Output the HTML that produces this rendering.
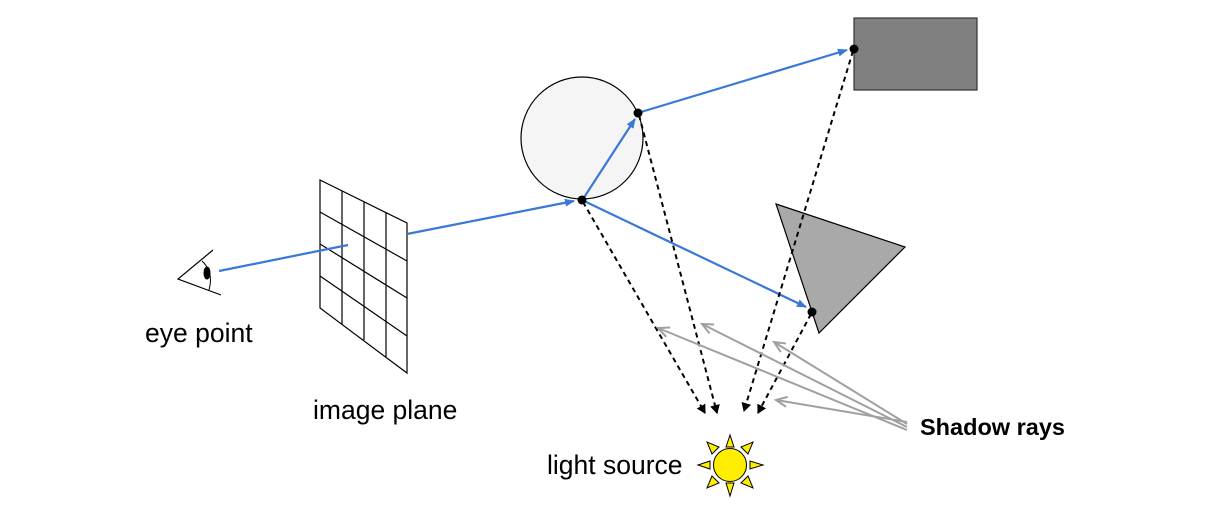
<!DOCTYPE html>
<html><head><meta charset="utf-8"><style>html,body{margin:0;padding:0;background:#fff;width:1232px;height:515px;overflow:hidden}</style></head>
<body>
<svg width="1232" height="515" viewBox="0 0 1232 515" xmlns="http://www.w3.org/2000/svg">
<defs>
<marker id="ab" markerWidth="10" markerHeight="8" refX="9" refY="4" orient="auto" markerUnits="userSpaceOnUse"><path d="M0,0 L10,4 L0,8 Z" fill="#3a78d8"/></marker>
<marker id="ak" markerWidth="10" markerHeight="10" refX="8" refY="5" orient="auto" markerUnits="userSpaceOnUse"><path d="M0,0 L9,5 L0,10 Z" fill="#000"/></marker>
<marker id="ag" markerWidth="14" markerHeight="12" refX="12" refY="6" orient="auto" markerUnits="userSpaceOnUse"><path d="M1,1 L12,6 L1,11" fill="none" stroke="#a0a0a0" stroke-width="2"/></marker>
</defs>
<!-- eye -->
<path d="M213,250 L178,279 L221,295" fill="none" stroke="#000" stroke-width="1.2"/>
<path d="M202,261 Q214,272 209,290" fill="none" stroke="#000" stroke-width="1"/>
<ellipse cx="207" cy="273" rx="3.5" ry="6.5" fill="#000"/>
<!-- grid -->
<g stroke="#000" stroke-width="1.2" fill="none">
<path d="M320,180 L407,223 L407,373 L320,308 Z"/>
<line x1="342" y1="191" x2="342" y2="324"/>
<line x1="364" y1="202" x2="364" y2="340"/>
<line x1="386" y1="213" x2="386" y2="357"/>
<line x1="320" y1="212" x2="407" y2="261"/>
<line x1="320" y1="244" x2="407" y2="298"/>
<line x1="320" y1="276" x2="407" y2="336"/>
</g>
<!-- shapes -->
<circle cx="582" cy="138" r="61" fill="#f5f5f5" stroke="#000" stroke-width="1.2"/>
<rect x="854" y="18" width="123" height="72" fill="#808080" stroke="#333" stroke-width="1.2"/>
<path d="M776,204 L905,247 L819,333 Z" fill="#a9a9a9" stroke="#000" stroke-width="1.2"/>
<!-- blue rays -->
<g stroke="#3a78d8" stroke-width="2.2" fill="none">
<line x1="219" y1="271" x2="348" y2="245"/>
<line x1="407" y1="234" x2="574" y2="201" marker-end="url(#ab)"/>
<line x1="583" y1="199" x2="635" y2="119" marker-end="url(#ab)"/>
<line x1="641" y1="112" x2="847" y2="50" marker-end="url(#ab)"/>
<line x1="584" y1="201" x2="806" y2="307" marker-end="url(#ab)"/>
</g>
<!-- dashed -->
<g stroke="#000" stroke-width="2" stroke-dasharray="5,4" fill="none">
<line x1="583" y1="202" x2="705" y2="413" marker-end="url(#ak)"/>
<line x1="639" y1="115" x2="717" y2="413" marker-end="url(#ak)"/>
<line x1="853" y1="51" x2="744" y2="411" marker-end="url(#ak)"/>
<line x1="811" y1="314" x2="758" y2="413" marker-end="url(#ak)"/>
</g>
<!-- shadow rays -->
<g stroke="#a0a0a0" stroke-width="2" fill="none">
<line x2="658" y2="328" x1="907" y1="430" marker-end="url(#ag)"/>
<line x2="702" y2="324" x1="907" y1="427" marker-end="url(#ag)"/>
<line x2="774" y2="342" x1="907" y1="424" marker-end="url(#ag)"/>
<line x2="776" y2="400" x1="907" y1="422" marker-end="url(#ag)"/>
</g>
<g fill="#000">
<circle cx="582" cy="200" r="4.5"/><circle cx="638" cy="113" r="4.5"/>
<circle cx="854" cy="49" r="4.5"/><circle cx="812" cy="312" r="4.5"/>
</g>
<!-- sun -->
<g fill="#ffee00" stroke="#000" stroke-width="1">
<polygon points="730,435 726,447 734,447"/>
<polygon points="730,496 726,483 734,483"/>
<polygon points="698,465 710,461 710,469"/>
<polygon points="763,465 750,461 750,469"/>
<polygon points="707,442 712,454 719,447"/>
<polygon points="753,442 748,454 741,447"/>
<polygon points="707,488 712,476 719,483"/>
<polygon points="753,488 748,476 741,483"/>
<circle cx="730" cy="465" r="16.5"/>
</g>
<g font-family="Liberation Sans, sans-serif" font-size="26.5" fill="#000">
<text x="145" y="342">eye point</text>
<text x="313" y="419">image plane</text>
<text x="547" y="474">light source</text>
<text x="920" y="435" font-weight="bold" font-size="23.5">Shadow rays</text>
</g>
</svg>
</body></html>
